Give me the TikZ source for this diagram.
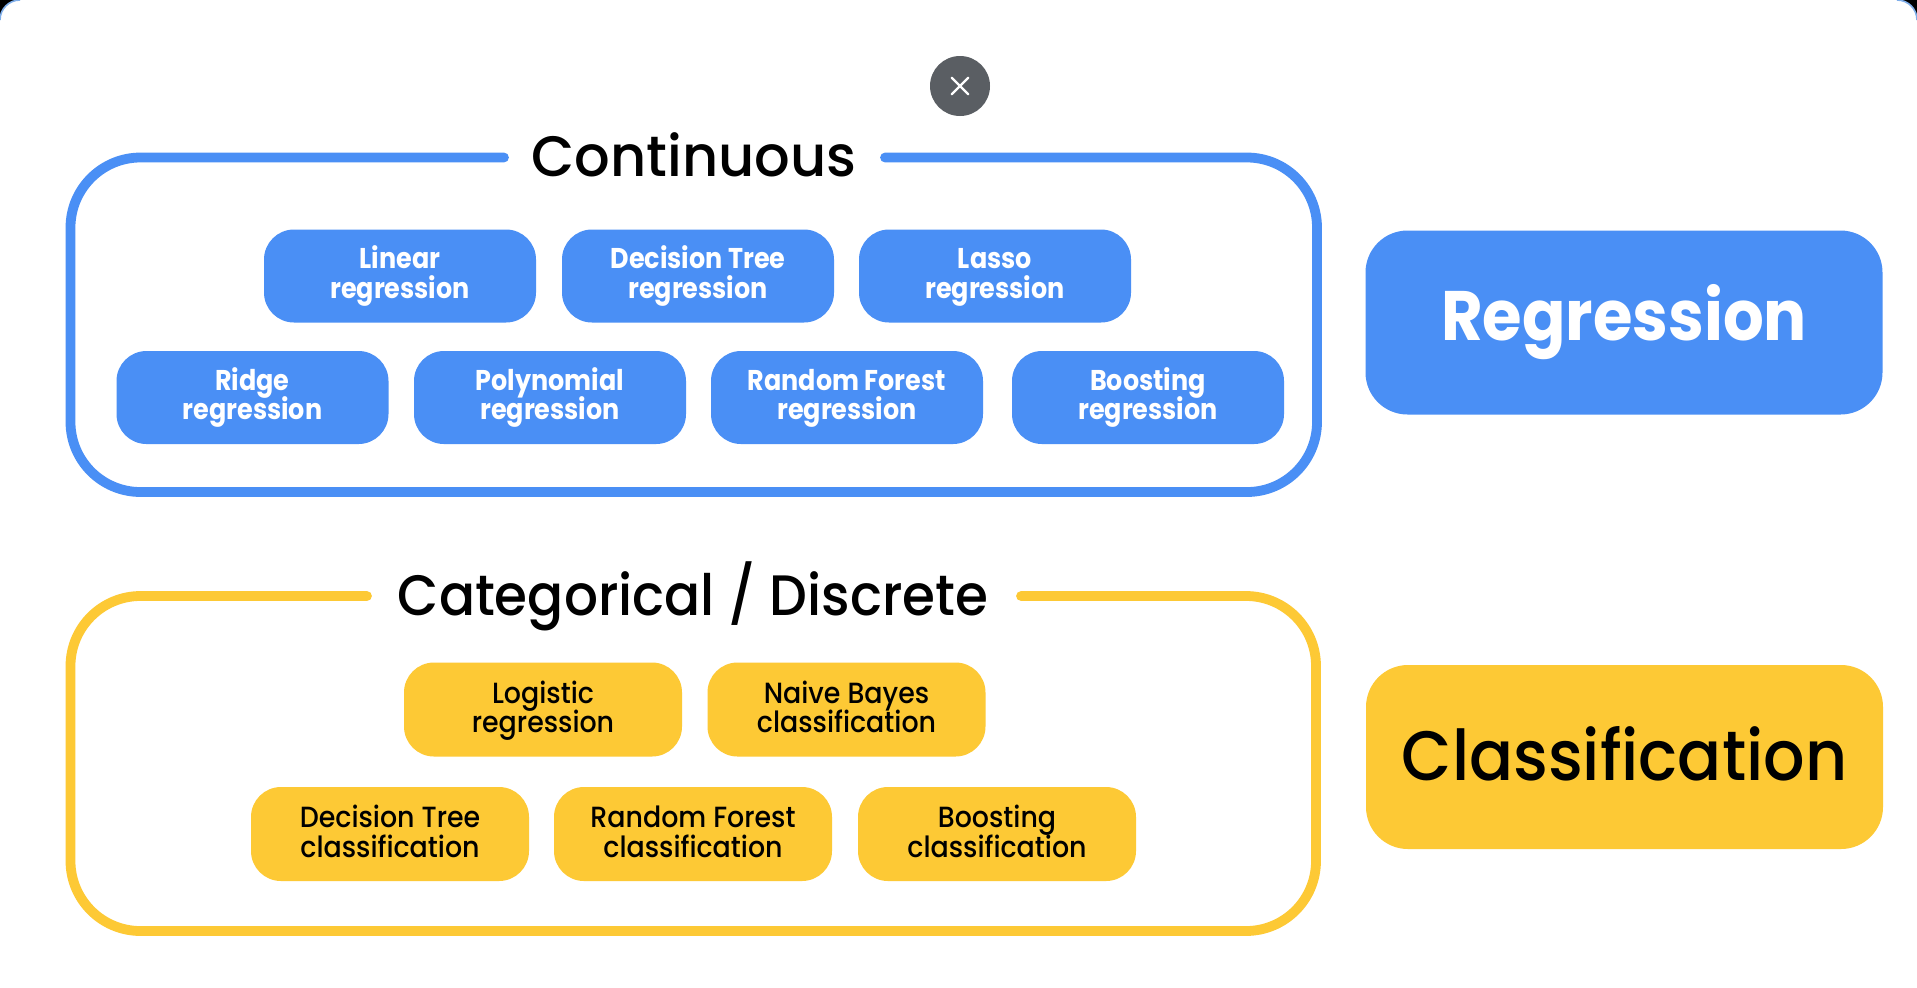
\documentclass[tikz,border=0pt]{standalone}
\usepackage{fontspec}
\setmainfont{Poppins}
\newfontfamily\pillfont[FakeStretch=0.92]{Poppins Medium}
\newfontfamily\pillbold[FakeStretch=0.89]{Poppins Bold}
\newfontfamily\headfont[FakeStretch=0.98]{Poppins Medium}
\newfontfamily\catfont[FakeStretch=0.935]{Poppins Medium}
\newfontfamily\bigbold[FakeStretch=0.915]{Poppins Bold}
\newfontfamily\bigmed[FakeStretch=0.93]{Poppins Medium}
\definecolor{gblue}{HTML}{4A8FF5}
\definecolor{gyellow}{HTML}{FDC935}
\definecolor{gdark}{HTML}{5A5E63}
\definecolor{edgeblue}{HTML}{7FAEEA}
\lineskiplimit=-30pt
\lineskip=0pt
\newcommand{\bluelines}[2]{\rule{0pt}{14pt}#1\\#2\rule[-6.5pt]{0pt}{6.5pt}}
\newcommand{\yellowlines}[2]{\rule{0pt}{14pt}#1\\#2\rule[-5.6pt]{0pt}{5.6pt}}
\tikzset{
  x=0.5pt,y=-0.5pt,
  frameline/.style={line width=4.9pt,line cap=round,rounded corners=35pt},
  pill/.style={rounded corners=15pt,minimum width=136pt,minimum height=46.5pt,inner sep=0pt,align=center},
  bluepill/.style={pill,fill=gblue,text=white,font=\pillbold\fontsize{14.3pt}{14.8pt}\selectfont},
  yellowpill/.style={pill,fill=gyellow,text=black,minimum width=139pt,minimum height=47pt,font=\pillfont\fontsize{14.6pt}{14.8pt}\selectfont},
  bigbox/.style={rounded corners=21pt,minimum width=258.5pt,minimum height=92pt,inner sep=0pt},
  frametitle/.style={inner sep=0pt,text=black},
}
\begin{document}
\begin{tikzpicture}
\useasboundingbox (0,0) rectangle (1917,987);
% window corners
\fill[black] (0,0) rectangle (1917,22);
\fill[white] (0,987) -- (0,20) arc[start angle=180,end angle=90,radius=10pt] -- (1897,0) arc[start angle=90,end angle=0,radius=10pt] -- (1917,987) -- cycle;
\draw[edgeblue,line width=0.8pt] (0,20) arc[start angle=180,end angle=90,radius=10pt];
\draw[edgeblue,line width=0.8pt] (1897,0) arc[start angle=90,end angle=0,radius=10pt];
% close button
\node[circle,fill=gdark,minimum size=30pt,inner sep=0pt] (close) at (960,86) {};
\draw[white,line width=1.1pt,line cap=round] ([shift={(-8.3,-8.3)}]close.center) -- ([shift={(8.3,8.3)}]close.center);
\draw[white,line width=1.1pt,line cap=round] ([shift={(-8.3,8.3)}]close.center) -- ([shift={(8.3,-8.3)}]close.center);
% continuous frame
\draw[frameline,gblue] (504,157.5) -- (70.5,157.5) -- (70.5,492) -- (1317,492) -- (1317,157.5) -- (885,157.5);
\node[frametitle,font=\headfont\fontsize{28.5pt}{32pt}\selectfont] (conttitle) at (694,155) {Continuous};
\node[bluepill] (linear) at (400,276) {\bluelines{Linear}{regression}};
\node[bluepill] (dectree) at (698,276) {\bluelines{Decision Tree}{regression}};
\node[bluepill] (lasso) at (995,276) {\bluelines{Lasso}{regression}};
\node[bluepill] (ridge) at (252.5,397.5) {\bluelines{Ridge}{regression}};
\node[bluepill] (poly) at (550,397.5) {\bluelines{Polynomial}{regression}};
\node[bluepill] (rforest) at (847,397.5) {\bluelines{Random Forest}{regression}};
\node[bluepill] (boost) at (1148,397.5) {\bluelines{Boosting}{regression}};
\node[bigbox,fill=gblue,text=white,font=\bigbold\fontsize{35pt}{40pt}\selectfont] (regr) at (1624,322.5) {Regression};
% categorical frame
\draw[frameline,gyellow] (367,596) -- (70.5,596) -- (70.5,931) -- (1316,931) -- (1316,596) -- (1021,596);
\node[frametitle,font=\catfont\fontsize{28.5pt}{32pt}\selectfont] (cattitle) at (693,596) {Categorical / Discrete};
\node[yellowpill] (logistic) at (543,709.5) {\yellowlines{Logistic}{regression}};
\node[yellowpill] (naive) at (846.5,709.5) {\yellowlines{Naive Bayes}{classification}};
\node[yellowpill] (dtc) at (390,834) {\yellowlines{Decision Tree}{classification}};
\node[yellowpill] (rfc) at (693,834) {\yellowlines{Random Forest}{classification}};
\node[yellowpill] (bc) at (997,834) {\yellowlines{Boosting}{classification}};
\node[bigbox,fill=gyellow,text=black,font=\bigmed\fontsize{35pt}{40pt}\selectfont] (classif) at (1624.5,757) {\raisebox{3.5pt}{Classification}};
\end{tikzpicture}
\end{document}
